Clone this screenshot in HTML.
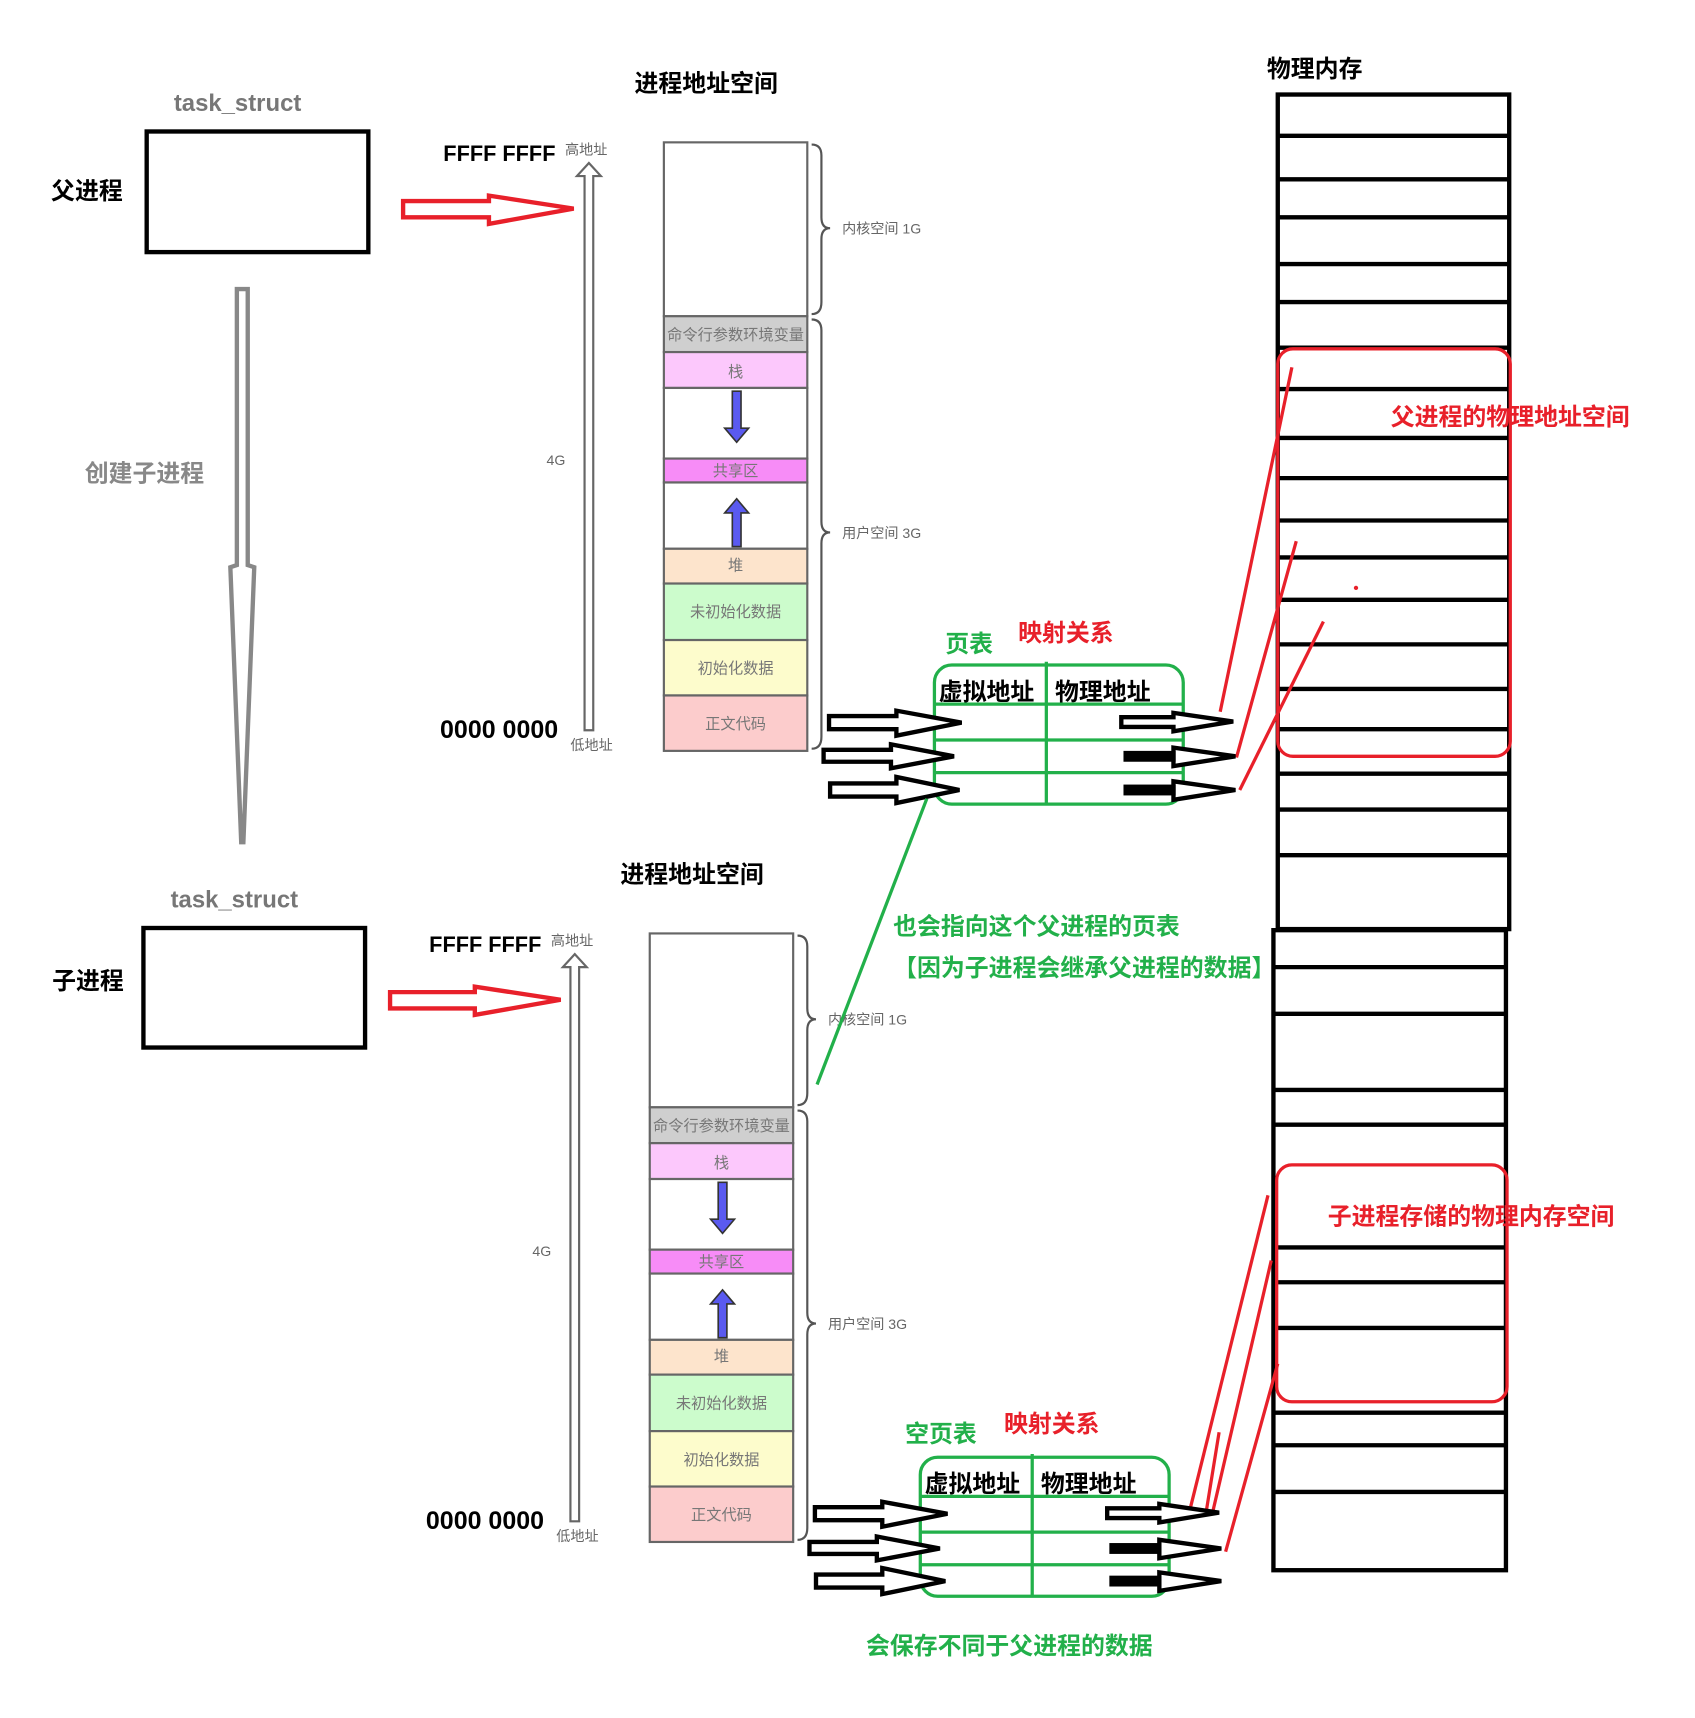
<!DOCTYPE html>
<html><head><meta charset="utf-8"><style>
html,body{margin:0;padding:0;background:#fff;}
svg{display:block;}
text{font-family:"Liberation Sans","Noto Sans CJK SC",sans-serif;}
.b{font-weight:bold;}
.sm{font-size:13px;fill:#666;}
.cell{font-size:14px;fill:#777;}
</style></head><body>
<svg width="1695" height="1718" viewBox="0 0 1560 1581" preserveAspectRatio="none" xmlns="http://www.w3.org/2000/svg">
<rect width="1560" height="1581" fill="#fff"/>

<text x="160" y="102" font-size="22" fill="#777" class="b">task_struct</text>
<rect x="135" y="121" width="204" height="111" fill="none" stroke="#000" stroke-width="4"/>
<text x="47" y="183" font-size="22" class="b">父进程</text>
<text x="157" y="835" font-size="22" fill="#777" class="b">task_struct</text>
<rect x="132" y="854" width="204" height="110" fill="none" stroke="#000" stroke-width="4"/>
<text x="48" y="910" font-size="22" class="b">子进程</text>

<path d="M218,266 L228,266 L228,520 L234,522 L224,775 L222,775 L212,522 L218,520 Z" fill="#fff" stroke="#888" stroke-width="4"/>
<text x="78" y="443" font-size="22" fill="#888" class="b">创建子进程</text>

<path d="M371,185 L450,185 L450,180 L528,192 L450,206 L450,200 L371,200 Z" fill="#fff" stroke="#e8202a" stroke-width="4"/>
<path d="M359,913 L437,913 L437,908 L516,920 L437,934 L437,928 L359,928 Z" fill="#fff" stroke="#e8202a" stroke-width="4"/>

<g>
<text x="584" y="84" font-size="22" class="b">进程地址空间</text>
<text x="408" y="148" font-size="20" class="b">FFFF FFFF</text>
<text x="520" y="142" class="sm">高地址</text>
<text x="405" y="679" font-size="23" class="b">0000 0000</text>
<text x="525" y="690" class="sm">低地址</text>
<text x="503" y="428" class="sm" font-size="14">4G</text>
<path d="M538,672 L538,162 L531,162 L542,150 L553,162 L546,162 L546,672 Z" fill="#fff" stroke="#666" stroke-width="2"/>
<rect x="611" y="131" width="132" height="160" fill="#fff" stroke="#666" stroke-width="2"/>
<rect x="611" y="291" width="132" height="33" fill="#cfcfcf" stroke="#666" stroke-width="2"/>
<text x="677" y="313" class="cell" text-anchor="middle">命令行参数环境变量</text>
<rect x="611" y="324" width="132" height="33" fill="#fcc8fc" stroke="#666" stroke-width="2"/>
<text x="677" y="347" class="cell" text-anchor="middle">栈</text>
<rect x="611" y="357" width="132" height="65" fill="#fff" stroke="#666" stroke-width="2"/>
<path d="M674,360 L682,360 L682,394 L689,394 L678,407 L667,394 L674,394 Z" fill="#5a5af0" stroke="#333" stroke-width="1.5"/>
<rect x="611" y="422" width="132" height="22" fill="#f78cf7" stroke="#666" stroke-width="2"/>
<text x="677" y="438" class="cell" text-anchor="middle">共享区</text>
<rect x="611" y="444" width="132" height="61" fill="#fff" stroke="#666" stroke-width="2"/>
<path d="M674,503 L682,503 L682,472 L689,472 L678,459 L667,472 L674,472 Z" fill="#5a5af0" stroke="#333" stroke-width="1.5"/>
<rect x="611" y="505" width="132" height="32" fill="#fde4cc" stroke="#666" stroke-width="2"/>
<text x="677" y="525" class="cell" text-anchor="middle">堆</text>
<rect x="611" y="537" width="132" height="52" fill="#ccfccc" stroke="#666" stroke-width="2"/>
<text x="677" y="568" class="cell" text-anchor="middle">未初始化数据</text>
<rect x="611" y="589" width="132" height="51" fill="#fdfccc" stroke="#666" stroke-width="2"/>
<text x="677" y="620" class="cell" text-anchor="middle">初始化数据</text>
<rect x="611" y="640" width="132" height="51" fill="#fccccc" stroke="#666" stroke-width="2"/>
<text x="677" y="671" class="cell" text-anchor="middle">正文代码</text>
<path d="M747,133 Q756,133 756,143 L756,200 Q756,210 764,210 Q756,210 756,220 L756,278 Q756,289 747,289" fill="none" stroke="#555" stroke-width="2"/>
<path d="M747,294 Q756,294 756,304 L756,480 Q756,490 764,490 Q756,490 756,500 L756,678 Q756,689 747,689" fill="none" stroke="#555" stroke-width="2"/>
<text x="775" y="215" class="sm" font-size="14">内核空间 1G</text>
<text x="775" y="495" class="sm" font-size="14">用户空间 3G</text>
</g>

<g transform="translate(-13,728)">
<text x="584" y="84" font-size="22" class="b">进程地址空间</text>
<text x="408" y="148" font-size="20" class="b">FFFF FFFF</text>
<text x="520" y="142" class="sm">高地址</text>
<text x="405" y="679" font-size="23" class="b">0000 0000</text>
<text x="525" y="690" class="sm">低地址</text>
<text x="503" y="428" class="sm" font-size="14">4G</text>
<path d="M538,672 L538,162 L531,162 L542,150 L553,162 L546,162 L546,672 Z" fill="#fff" stroke="#666" stroke-width="2"/>
<rect x="611" y="131" width="132" height="160" fill="#fff" stroke="#666" stroke-width="2"/>
<rect x="611" y="291" width="132" height="33" fill="#cfcfcf" stroke="#666" stroke-width="2"/>
<text x="677" y="313" class="cell" text-anchor="middle">命令行参数环境变量</text>
<rect x="611" y="324" width="132" height="33" fill="#fcc8fc" stroke="#666" stroke-width="2"/>
<text x="677" y="347" class="cell" text-anchor="middle">栈</text>
<rect x="611" y="357" width="132" height="65" fill="#fff" stroke="#666" stroke-width="2"/>
<path d="M674,360 L682,360 L682,394 L689,394 L678,407 L667,394 L674,394 Z" fill="#5a5af0" stroke="#333" stroke-width="1.5"/>
<rect x="611" y="422" width="132" height="22" fill="#f78cf7" stroke="#666" stroke-width="2"/>
<text x="677" y="438" class="cell" text-anchor="middle">共享区</text>
<rect x="611" y="444" width="132" height="61" fill="#fff" stroke="#666" stroke-width="2"/>
<path d="M674,503 L682,503 L682,472 L689,472 L678,459 L667,472 L674,472 Z" fill="#5a5af0" stroke="#333" stroke-width="1.5"/>
<rect x="611" y="505" width="132" height="32" fill="#fde4cc" stroke="#666" stroke-width="2"/>
<text x="677" y="525" class="cell" text-anchor="middle">堆</text>
<rect x="611" y="537" width="132" height="52" fill="#ccfccc" stroke="#666" stroke-width="2"/>
<text x="677" y="568" class="cell" text-anchor="middle">未初始化数据</text>
<rect x="611" y="589" width="132" height="51" fill="#fdfccc" stroke="#666" stroke-width="2"/>
<text x="677" y="620" class="cell" text-anchor="middle">初始化数据</text>
<rect x="611" y="640" width="132" height="51" fill="#fccccc" stroke="#666" stroke-width="2"/>
<text x="677" y="671" class="cell" text-anchor="middle">正文代码</text>
<path d="M747,133 Q756,133 756,143 L756,200 Q756,210 764,210 Q756,210 756,220 L756,278 Q756,289 747,289" fill="none" stroke="#555" stroke-width="2"/>
<path d="M747,294 Q756,294 756,304 L756,480 Q756,490 764,490 Q756,490 756,500 L756,678 Q756,689 747,689" fill="none" stroke="#555" stroke-width="2"/>
<text x="775" y="215" class="sm" font-size="14">内核空间 1G</text>
<text x="775" y="495" class="sm" font-size="14">用户空间 3G</text>
</g>

<text x="1166" y="71" font-size="22" class="b">物理内存</text>
<g stroke="#000" stroke-width="4" fill="none">
<rect x="1176" y="87" width="213" height="768"/>
<rect x="1172" y="856" width="214" height="589"/>
<path d="M1176,125H1389M1176,165H1389M1176,200H1389M1176,243H1389M1176,278H1389M1176,320H1389M1176,358H1389M1176,403H1389M1176,440H1389M1176,479H1389M1176,513H1389M1176,552H1389M1176,593H1389M1176,634H1389M1176,671H1389M1176,712H1389M1176,745H1389M1176,787H1389M1172,890H1386M1172,933H1386M1172,1003H1386M1172,1035H1386M1172,1148H1386M1172,1180H1386M1172,1222H1386M1172,1300H1386M1172,1330H1386M1172,1373H1386"/>
</g>

<rect x="1176" y="321" width="214" height="375" rx="14" fill="none" stroke="#e8202a" stroke-width="3"/>
<text x="1280" y="391" font-size="22" fill="#e8202a" class="b">父进程的物理地址空间</text>
<circle cx="1248" cy="541" r="2" fill="#e8202a"/>
<g stroke="#e8202a" stroke-width="3" fill="none">
<path d="M1123,655 L1189,338"/>
<path d="M1138,697 L1193,498"/>
<path d="M1141,727 L1218,572"/>
<path d="M1095,1390 L1167,1100"/>
<path d="M1110,1392 L1122,1318"/>
<path d="M1116,1392 L1170,1160"/>
<path d="M1128,1428 L1176,1255"/>
</g>
<rect x="1175" y="1072" width="212" height="218" rx="14" fill="none" stroke="#e8202a" stroke-width="3"/>
<text x="1222" y="1127" font-size="22" fill="#e8202a" class="b">子进程存储的物理内存空间</text>

<text x="870" y="600" font-size="22" fill="#22b04a" class="b">页表</text>
<text x="937" y="590" font-size="22" fill="#e8202a" class="b">映射关系</text>
<rect x="860" y="612" width="229" height="128" rx="16" fill="none" stroke="#22b04a" stroke-width="3"/>
<path d="M860,648H1089M860,681H1089M860,711H1089M963,609V740" stroke="#22b04a" stroke-width="3"/>
<text x="864" y="644" font-size="22" class="b">虚拟地址</text>
<text x="971" y="644" font-size="22" class="b">物理地址</text>
<g stroke="#000" stroke-width="4" fill="#fff">
<path d="M763,659 L825,659 L825,654 L885,665 L825,677 L825,671 L763,671 Z"/>
<path d="M758,690 L820,690 L820,685 L878,696 L820,707 L820,701 L758,701 Z"/>
<path d="M764,721 L825,721 L825,715 L883,727 L825,739 L825,733 L764,733 Z"/>
<path d="M1032,660 L1080,660 L1080,656 L1135,664 L1080,673 L1080,669 L1032,669 Z"/>
<path d="M1080,688 L1137,696 L1080,705 Z"/>
<path d="M1080,719 L1137,727 L1080,736 Z"/>
</g>
<rect x="1034" y="691" width="48" height="10" fill="#000"/>
<rect x="1034" y="722" width="48" height="10" fill="#000"/>

<path d="M853,735 L752,998" stroke="#22b04a" stroke-width="3"/>
<text x="822" y="860" font-size="22" fill="#22b04a" class="b">也会指向这个父进程的页表</text>
<text x="822" y="898" font-size="22" fill="#22b04a" class="b">【因为子进程会继承父进程的数据】</text>

<text x="833" y="1327" font-size="22" fill="#22b04a" class="b">空页表</text>
<text x="924" y="1318" font-size="22" fill="#e8202a" class="b">映射关系</text>
<rect x="847" y="1341" width="229" height="128" rx="16" fill="none" stroke="#22b04a" stroke-width="3"/>
<path d="M847,1377H1076M847,1410H1076M847,1440H1076M950,1338V1469" stroke="#22b04a" stroke-width="3"/>
<text x="851" y="1373" font-size="22" class="b">虚拟地址</text>
<text x="958" y="1373" font-size="22" class="b">物理地址</text>
<g stroke="#000" stroke-width="4" fill="#fff">
<path d="M750,1387 L812,1387 L812,1382 L872,1393 L812,1405 L812,1399 L750,1399 Z"/>
<path d="M745,1419 L807,1419 L807,1414 L865,1425 L807,1436 L807,1430 L745,1430 Z"/>
<path d="M751,1449 L812,1449 L812,1443 L870,1455 L812,1467 L812,1461 L751,1461 Z"/>
<path d="M1019,1388 L1067,1388 L1067,1384 L1122,1392 L1067,1401 L1067,1397 L1019,1397 Z"/>
<path d="M1067,1417 L1124,1425 L1067,1434 Z"/>
<path d="M1067,1447 L1124,1455 L1067,1464 Z"/>
</g>
<rect x="1021" y="1420" width="48" height="10" fill="#000"/>
<rect x="1021" y="1450" width="48" height="10" fill="#000"/>
<text x="797" y="1522" font-size="22" fill="#22b04a" class="b">会保存不同于父进程的数据</text>
</svg>
</body></html>
